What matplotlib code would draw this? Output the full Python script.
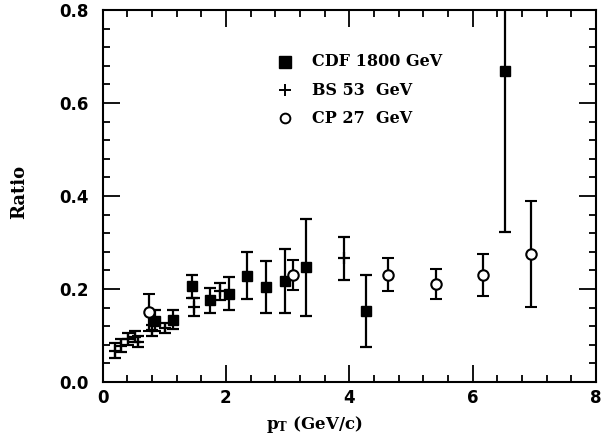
import matplotlib
matplotlib.use("Agg")
import matplotlib.pyplot as plt
from matplotlib.ticker import MultipleLocator

# CDF 1800 GeV (filled squares)
cdf_x = [0.85, 1.15, 1.45, 1.75, 2.05, 2.35, 2.65, 2.95, 3.30, 4.27, 6.53]
cdf_y = [0.132, 0.134, 0.206, 0.176, 0.190, 0.229, 0.205, 0.218, 0.247, 0.153, 0.668]
cdf_e = [0.023, 0.021, 0.025, 0.027, 0.035, 0.051, 0.056, 0.069, 0.104, 0.078, 0.345]

# BS 53 GeV (crosses)
bs_x = [0.20, 0.30, 0.41, 0.52, 0.58, 0.80, 1.01, 1.48, 1.90, 3.91]
bs_y = [0.067, 0.078, 0.092, 0.097, 0.087, 0.111, 0.116, 0.161, 0.195, 0.266]
bs_e = [0.016, 0.014, 0.013, 0.012, 0.012, 0.012, 0.011, 0.020, 0.018, 0.046]

# CP 27 GeV (open circles)
cp_x = [0.75, 3.09, 4.62, 5.40, 6.17, 6.94]
cp_y = [0.150, 0.230, 0.231, 0.211, 0.231, 0.275]
cp_e = [0.040, 0.033, 0.036, 0.032, 0.045, 0.114]

x_ticks = [0, 2, 4, 6, 8]
x_ticklabels = ['0', '2', '4', '6', '8']
y_ticks = [0, 0.2, 0.4, 0.6, 0.8]
y_ticklabels = ['0.0', '0.2', '0.4', '0.6', '0.8']
legend_labels = ["CDF 1800 GeV", "BS 53  GeV", "CP 27  GeV"]

plt.rcParams['mathtext.fontset'] = 'dejavuserif'
fig = plt.figure(figsize=(6.01, 4.38), dpi=100)
ax = fig.add_axes([0.1706, 0.1279, 0.8211, 0.849])

lw = 1.6
ax.errorbar(bs_x, bs_y, yerr=bs_e, fmt='+', color='black', ms=8, mew=lw,
            elinewidth=lw, capsize=4, capthick=lw)
ax.errorbar(cdf_x, cdf_y, yerr=cdf_e, fmt='s', color='black', ms=7.5,
            elinewidth=lw, capsize=4, capthick=lw)
ax.errorbar(cp_x, cp_y, yerr=cp_e, fmt='o', color='black', mfc='white',
            mec='black', mew=1.5, ms=7.5, elinewidth=lw, capsize=4, capthick=lw)

ax.set_xlim(0, 8)
ax.set_ylim(0, 0.8)
ax.set_xticks(x_ticks)
ax.set_xticklabels(x_ticklabels)
ax.set_yticks(y_ticks)
ax.set_yticklabels(y_ticklabels)
ax.xaxis.set_minor_locator(MultipleLocator(0.4))
ax.yaxis.set_minor_locator(MultipleLocator(0.04))
ax.tick_params(which='both', direction='in', top=True, right=True, width=1.3)
ax.tick_params(which='major', length=12)
ax.tick_params(which='minor', length=5)
ax.tick_params(axis='x', pad=5)
ax.tick_params(axis='y', pad=10)
for lab in ax.get_xticklabels() + ax.get_yticklabels():
    lab.set_fontfamily('DejaVu Sans')
    lab.set_fontweight('bold')
    lab.set_fontsize(12)
for s in ax.spines.values():
    s.set_linewidth(1.5)

ax.set_xlabel(r'p$_{\mathbf{T}}$ (GeV/c)', family='DejaVu Serif', fontweight='bold',
              fontsize=12)
ax.xaxis.set_label_coords(0.43, -0.085)
ax.set_ylabel('Ratio', family='DejaVu Serif', fontweight='bold', fontsize=13)
ax.yaxis.set_label_coords(-0.15, 0.51)

# legend (manual)
mx, tx = 0.37, 0.425
rows = [0.861, 0.785, 0.709]
ax.plot([mx], [rows[0]], 's', color='black', ms=8, transform=ax.transAxes)
ax.plot([mx], [rows[1]], '+', color='black', ms=8, mew=1.4, transform=ax.transAxes)
ax.plot([mx], [rows[2]], 'o', color='black', mfc='white', mew=1.4, ms=7,
        transform=ax.transAxes)
for lab, yy in zip(legend_labels, rows):
    ax.text(tx, yy, lab, transform=ax.transAxes, family='DejaVu Serif',
            fontweight='bold', fontsize=11.5, va='center', ha='left')

fig.savefig('out.png', dpi=100)
